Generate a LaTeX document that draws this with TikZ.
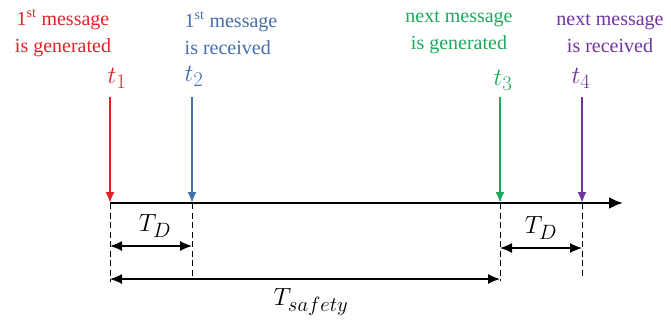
\documentclass[tikz,border=0pt]{standalone}
\usepackage{fontspec}
\setmainfont{Liberation Serif}
\usetikzlibrary{arrows.meta}
\definecolor{genred}{RGB}{226,32,38}
\definecolor{recblue}{RGB}{68,110,168}
\definecolor{nextgreen}{RGB}{30,168,90}
\definecolor{nextpurple}{RGB}{112,52,160}
\tikzset{
  evt/.style={-{Latex[length=11pt,width=9pt]},line width=2pt},
  guide/.style={dash pattern=on 6pt off 3.5pt,line width=1pt},
  span/.style={{Latex[length=12pt,width=10pt]}-{Latex[length=12pt,width=10pt]},line width=1.2pt},
  msgtext/.style={font=\fontsize{20}{27}\selectfont,align=center,inner sep=0pt},
  tlabel/.style={font=\fontsize{31}{33}\selectfont,inner sep=0pt}
}
\begin{document}
\begin{tikzpicture}[x=1pt,y=-1pt]
	\useasboundingbox (0,0) rectangle (671,325);
	% time axis
	\coordinate (a1) at (110,203);
	\coordinate (a2) at (192,203);
	\coordinate (a3) at (500,203);
	\coordinate (a4) at (582,203);
	\coordinate (aend) at (623,203);
	\draw[line width=2.7pt,-{Latex[length=14pt,width=12pt]}] (a1) -- (aend);
	% event arrows
	\coordinate (s1) at (110,97);
	\coordinate (s2) at (192,97);
	\coordinate (s3) at (500,97);
	\coordinate (s4) at (582,97);
	\draw[evt,genred] (s1) -- (a1);
	\draw[evt,recblue] (s2) -- (a2);
	\draw[evt,nextgreen] (s3) -- (a3);
	\draw[evt,nextpurple] (s4) -- (a4);
	\node[tlabel,genred] (t1) at (117,78) {$t_1$};
	\node[tlabel,recblue] (t2) at (194,76) {$t_2$};
	\node[tlabel,nextgreen] (t3) at (503,80) {$t_3$};
	\node[tlabel,nextpurple] (t4) at (581,78) {$t_4$};
	\node[msgtext,genred] (m1) at (63,33) {1\textsuperscript{st} message\\is generated};
	\node[msgtext,recblue,align=left] (m2) at (231,33) {1\textsuperscript{st} message\\is received};
	\node[msgtext,nextgreen] (m3) at (459,33) {next message\\is generated};
	\node[msgtext,nextpurple] (m4) at (610,33) {next message\\is received};
	% dashed guides
	\coordinate (d1) at (110,282);
	\coordinate (d2) at (192,278);
	\coordinate (d3) at (500,281);
	\coordinate (d4) at (582,278);
	\draw[guide] (a1) -- (d1);
	\draw[guide] (a2) -- (d2);
	\draw[guide] (a3) -- (d3);
	\draw[guide] (a4) -- (d4);
	% spans
	\coordinate (l1) at (110,246);
	\coordinate (l2) at (192,246);
	\coordinate (r1) at (500,248);
	\coordinate (r2) at (582,248);
	\coordinate (w1) at (110,279);
	\coordinate (w2) at (500,279);
	\draw[span] (l1) -- (l2);
	\draw[span] (r1) -- (r2);
	\draw[span] (w1) -- (w2);
	\node[tlabel] (td1) at (155,226) {$T_D$};
	\node[tlabel] (td2) at (541,228) {$T_D$};
	\node[tlabel] (ts) at (311,302) {$T_{safety}$};
\end{tikzpicture}
\end{document}
